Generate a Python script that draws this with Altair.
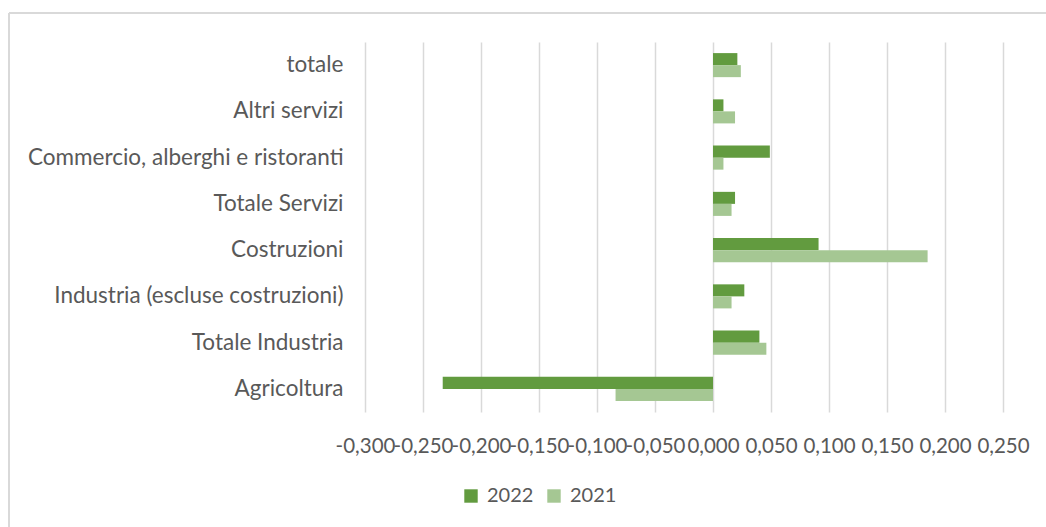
import altair as alt
import pandas as pd

categories = ["totale", "Altri servizi", "Commercio, alberghi e ristoranti", "Totale Servizi",
              "Costruzioni", "Industria (escluse costruzioni)", "Totale Industria", "Agricoltura"]
values_2022 = [0.021, 0.009, 0.049, 0.019, 0.091, 0.027, 0.040, -0.233]
values_2021 = [0.024, 0.019, 0.009, 0.016, 0.185, 0.016, 0.046, -0.084]
series = ["2022", "2021"]
tick_values = [-0.30, -0.25, -0.20, -0.15, -0.10, -0.05, 0.0, 0.05, 0.10, 0.15, 0.20, 0.25]

rows = []
for c, a, b in zip(categories, values_2022, values_2021):
    rows.append({"categoria": c, "serie": "2022", "valore": a})
    rows.append({"categoria": c, "serie": "2021", "valore": b})
df = pd.DataFrame(rows)

FONT = "Lato"
TXT = "#595959"

bars = alt.Chart(df).mark_bar().encode(
    y=alt.Y("categoria:N", sort=categories,
            scale=alt.Scale(paddingInner=0.48, paddingOuter=0.24),
            axis=alt.Axis(title=None, domain=False, ticks=False, grid=False,
                          labelFontSize=22.5, labelColor=TXT, labelFont=FONT,
                          labelPadding=22, labelLimit=400)),
    yOffset=alt.YOffset("serie:N", sort=series),
    x=alt.X("valore:Q", scale=alt.Scale(domain=[-0.30, 0.25], nice=False, zero=False),
            axis=alt.Axis(title=None, values=tick_values, domain=False, ticks=False,
                          grid=True, gridColor="#d9d9d9", gridWidth=1.5,
                          labelExpr="replace(replace(format(datum.value, '.3f'), '.', ','), '\u2212', '-')",
                          labelFontSize=20.5, labelColor=TXT, labelFont=FONT,
                          labelPadding=24, labelOverlap=False, labelFlush=False)),
    color=alt.Color("serie:N", sort=series,
                    scale=alt.Scale(domain=series, range=["#629b3f", "#a5c793"]),
                    legend=alt.Legend(title=None, orient="none", direction="horizontal",
                                      legendX=96, legendY=444,
                                      symbolType="square", symbolSize=180,
                                      symbolStrokeWidth=0, labelFontSize=20,
                                      labelColor=TXT, labelFont=FONT,
                                      columnPadding=10, labelOffset=6)),
)

border_left = alt.Chart(df).mark_rule(color="#d9d9d9", strokeWidth=1.5).encode(
    x=alt.value(-356), y=alt.value(-29), y2=alt.value(500))
border_top = alt.Chart(df).mark_rule(color="#d9d9d9", strokeWidth=1.5).encode(
    x=alt.value(-356), x2=alt.value(700), y=alt.value(-29))

chart = alt.layer(border_left, border_top, bars).properties(
    width=638, height=370,
    autosize=alt.AutoSizeParams(type="none"),
    padding={"left": 365, "top": 42, "right": 43, "bottom": 115},
).configure(background="white").configure_view(stroke=None)

chart.save("out.html", embed_options={"renderer": "svg", "actions": False})
